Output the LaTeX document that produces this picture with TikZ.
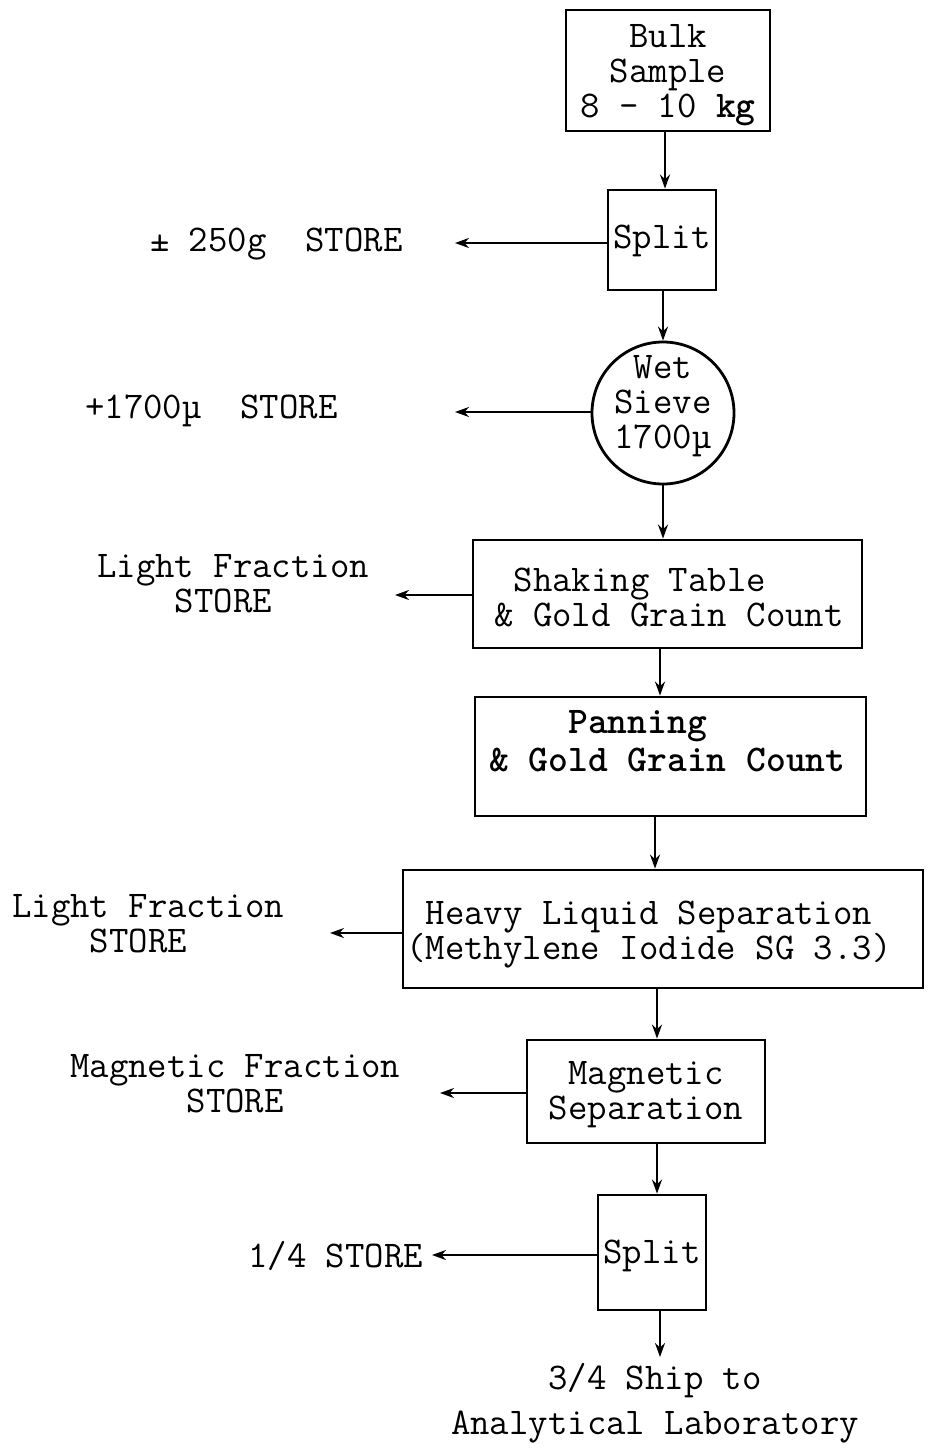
\documentclass[tikz,border=0pt]{standalone}
\usepackage{fontspec}
\usetikzlibrary{arrows.meta}
\newcommand\twsize{\fontsize{37.7}{35}\selectfont}
\tikzset{
  box/.style={draw,line width=2.8pt,inner sep=0pt,rectangle},
  txt/.style={font=\ttfamily\twsize,inner sep=0pt},
  arr/.style={line width=2.2pt,-{Stealth[length=14pt,width=10pt]}},
}
\begin{document}
\begin{tikzpicture}[x=1pt,y=-1pt]
\useasboundingbox (0,0) rectangle (927,1450);
% boxes
\node[box,minimum width=204pt,minimum height=121pt] (bulk) at (668,70.5) {};
\node[box,minimum width=108pt,minimum height=100pt] (split1) at (662,240) {};
\node[draw,line width=2.8pt,circle,minimum size=142pt,inner sep=0pt] (sieve) at (663,413) {};
\node[box,minimum width=389pt,minimum height=108pt] (shake) at (667.5,594) {};
\node[box,minimum width=391pt,minimum height=119pt] (pan) at (670.5,756.5) {};
\node[box,minimum width=520pt,minimum height=118pt] (heavy) at (663,929) {};
\node[box,minimum width=238pt,minimum height=103pt] (mag) at (646,1091.5) {};
\node[box,minimum width=108pt,minimum height=115pt] (split2) at (652,1252.5) {};
% box texts
\node[txt,align=center] (tbulk) at (668,75) {Bulk\\Sample\\8 - 10 \textbf{kg}};
\node[txt] (tsplit1) at (662,241) {Split};
\node[txt,align=center] (tsieve) at (663,406) {Wet\\Sieve\\1700µ};
\node[txt,align=left,anchor=west] (tshake) at (494,597) {\phantom{x}Shaking Table\\\& Gold Grain Count};
\node[txt,align=left,anchor=west,font=\ttfamily\bfseries\fontsize{37.7}{38}\selectfont] (tpan) at (489,741) {\phantom{xxxx}Panning\\\& Gold Grain Count};
\node[txt,align=left,anchor=west] (theavy) at (406,935) {\phantom{x}Heavy Liquid Separation\\(Methylene Iodide SG 3.3)};
\node[txt,align=center] (tmag) at (646,1095) {Magnetic\\Separation};
\node[txt] (tsplit2) at (652,1256) {Split};
% side labels
\node[txt,anchor=west] (l1) at (150,244) {± 250g\ \ STORE};
\node[txt,anchor=west] (l2) at (85,411) {+1700µ\ \ STORE};
\node[txt,align=left,anchor=west] (l3) at (97,584) {Light Fraction\\\phantom{xxxx}STORE};
\node[txt,align=left,anchor=west] (l4) at (12,924) {Light Fraction\\\phantom{xxxx}STORE};
\node[txt,align=left,anchor=west] (l5) at (70,1084) {Magnetic Fraction\\\phantom{xxxxxx}STORE};
\node[txt,anchor=west] (l6) at (248,1256) {1/4 STORE};
\node[txt,align=center,font=\ttfamily\fontsize{37.7}{45}\selectfont] (out) at (655,1403) {3/4 Ship to\\Analytical Laboratory};
% arrow x-positions and free ends
\coordinate (x1) at (665,0);
\coordinate (x2) at (663,0);
\coordinate (x3) at (660,0);
\coordinate (x4) at (655,0);
\coordinate (x5) at (657,0);
\coordinate (e1) at (455,243);
\coordinate (e2) at (455,412);
\coordinate (e3) at (395,595);
\coordinate (e4) at (330,933);
\coordinate (e5) at (440,1093);
\coordinate (e6) at (432,1255);
\coordinate (e7) at (660,1357);
% vertical arrows
\draw[arr] (bulk.south -| x1) -- (split1.north -| x1);
\draw[arr] (split1.south -| x2) -- (sieve.north);
\draw[arr] (sieve.south) -- (shake.north -| x2);
\draw[arr] (shake.south -| x3) -- (pan.north -| x3);
\draw[arr] (pan.south -| x4) -- (heavy.north -| x4);
\draw[arr] (heavy.south -| x5) -- (mag.north -| x5);
\draw[arr] (mag.south -| x5) -- (split2.north -| x5);
\draw[arr] (split2.south -| e7) -- (e7);
% side arrows
\draw[arr] (split1.west |- e1) -- (e1);
\draw[arr] (sieve.west |- e2) -- (e2);
\draw[arr] (shake.west |- e3) -- (e3);
\draw[arr] (heavy.west |- e4) -- (e4);
\draw[arr] (mag.west |- e5) -- (e5);
\draw[arr] (split2.west |- e6) -- (e6);
\end{tikzpicture}
\end{document}
